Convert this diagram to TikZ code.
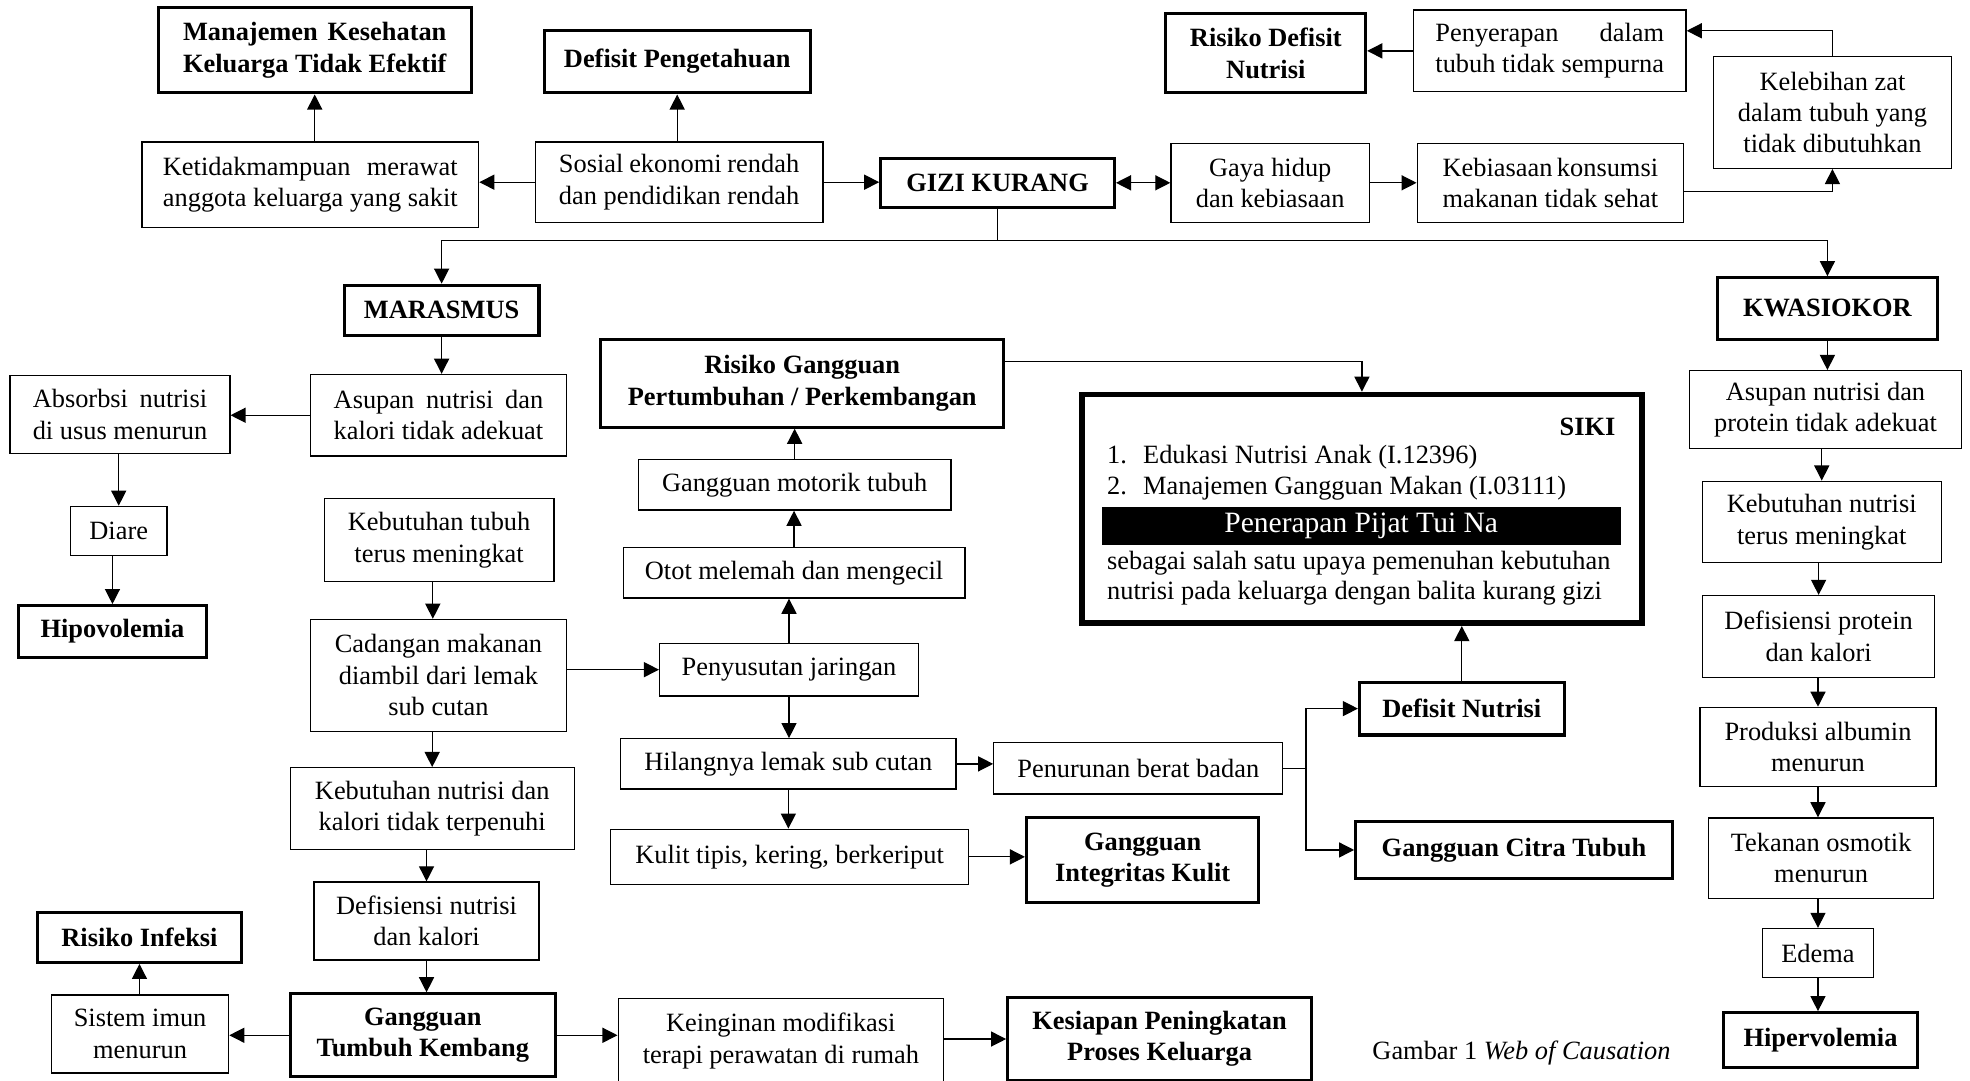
\documentclass[tikz,border=0pt]{standalone}
\usepackage{fontspec}
\setmainfont{Liberation Serif}
\usetikzlibrary{arrows.meta}
\newbox\jbox
\newcommand\jtwo[2]{\setbox\jbox\hbox{#2}\hbox to\wd\jbox{#1}\\#2}
\tikzset{
  tb/.style={draw, line width=1pt, rectangle, align=center, inner sep=0pt,
    font=\fontsize{21}{25}\selectfont},
  bb/.style={tb, line width=2.4pt, font=\fontsize{21}{25}\selectfont\bfseries},
  txt/.style={inner sep=0pt, font=\fontsize{21}{25}\selectfont},
  arr/.style={line width=1pt, -{Triangle[length=12pt,width=12pt]}},
  arrtwo/.style={line width=1pt, {Triangle[length=12pt,width=12pt]}-{Triangle[length=12pt,width=12pt]}},
  ln/.style={line width=1pt}
}
\begin{document}
\begin{tikzpicture}[x=1pt,y=1pt]
\useasboundingbox (0,0) rectangle (1568,-860);
\clip (0,0) rectangle (1568,-860);
% top
\node[bb, minimum width=249pt, minimum height=68pt] (mk) at (250.5,-40) {\jtwo{Manajemen Kesehatan}{Keluarga Tidak Efektif}};
\node[bb, minimum width=212pt, minimum height=50pt] (dp) at (539,-49) {Defisit Pengetahuan};
\node[bb, minimum width=159pt, minimum height=63pt] (rdn) at (1007.5,-42.5) {Risiko Defisit\\Nutrisi};
\node[tb, minimum width=217pt, minimum height=65pt] (pen) at (1233.5,-40.5) {\jtwo{Penyerapan dalam}{tubuh tidak sempurna}};
\node[tb, minimum width=189pt, minimum height=89pt] (kel) at (1458.5,-89.5) {Kelebihan zat\\dalam tubuh yang\\tidak dibutuhkan};
\node[tb, minimum width=268pt, minimum height=68pt] (ket) at (247,-147) {\jtwo{Ketidakmampuan merawat}{anggota keluarga yang sakit}};
\node[tb, minimum width=229pt, minimum height=64pt] (sos) at (540.5,-145) {\jtwo{Sosial ekonomi rendah}{dan pendidikan rendah}};
\node[bb, minimum width=186pt, minimum height=39pt] (gizi) at (794,-145.5) {GIZI KURANG};
\node[tb, minimum width=158pt, minimum height=63pt] (gaya) at (1011,-145.5) {Gaya hidup\\dan kebiasaan};
\node[tb, minimum width=212pt, minimum height=63pt] (keb) at (1234,-145.5) {\jtwo{Kebiasaan konsumsi}{makanan tidak sehat}};
% left
\node[bb, minimum width=155pt, minimum height=40pt] (mar) at (351.5,-247) {MARASMUS};
\node[tb, minimum width=204pt, minimum height=65pt] (asn) at (349,-330.5) {\jtwo{Asupan nutrisi dan}{kalori tidak adekuat}};
\node[tb, minimum width=175pt, minimum height=62pt] (abs) at (95.5,-330) {\jtwo{Absorbsi nutrisi}{di usus menurun}};
\node[tb, minimum width=77pt, minimum height=39pt] (diare) at (94.5,-422.5) {Diare};
\node[bb, minimum width=149pt, minimum height=41pt] (hipo) at (89.5,-502.5) {Hipovolemia};
\node[tb, minimum width=183pt, minimum height=66pt] (ktm) at (349.5,-430) {Kebutuhan tubuh\\terus meningkat};
\node[tb, minimum width=204pt, minimum height=89pt] (cad) at (349,-537.5) {Cadangan makanan\\diambil dari lemak\\sub cutan};
\node[tb, minimum width=226pt, minimum height=65pt] (knk) at (344,-643.5) {Kebutuhan nutrisi dan\\kalori tidak terpenuhi};
\node[tb, minimum width=179pt, minimum height=62pt] (dnk) at (339.5,-733) {Defisiensi nutrisi\\dan kalori};
\node[bb, minimum width=211pt, minimum height=66pt] (gtk) at (336.5,-824) {Gangguan\\Tumbuh Kembang};
\node[tb, minimum width=141pt, minimum height=62pt] (sim) at (111.5,-823) {Sistem imun\\menurun};
\node[bb, minimum width=162pt, minimum height=40pt] (rinf) at (111,-746) {Risiko Infeksi};
\node[tb, minimum width=259pt, minimum height=67pt] (kmt) at (621.5,-828.5) {Keinginan modifikasi\\terapi perawatan di rumah};
\node[bb, minimum width=242pt, minimum height=66pt] (kpp) at (923,-827) {Kesiapan Peningkatan\\Proses Keluarga};
% middle
\node[bb, minimum width=321pt, minimum height=70pt] (rgp) at (638.5,-305) {Risiko Gangguan\\Pertumbuhan / Perkembangan};
\node[tb, minimum width=249pt, minimum height=40pt] (gmt) at (632.5,-386) {Gangguan motorik tubuh};
\node[tb, minimum width=272pt, minimum height=40pt] (otot) at (632,-456) {Otot melemah dan mengecil};
\node[tb, minimum width=206pt, minimum height=42pt] (pj) at (628,-533) {Penyusutan jaringan};
\node[tb, minimum width=267pt, minimum height=40pt] (hl) at (627.5,-608) {Hilangnya lemak sub cutan};
\node[tb, minimum width=230pt, minimum height=41pt] (pbb) at (906,-611.5) {Penurunan berat badan};
\node[tb, minimum width=285pt, minimum height=44pt] (kulit) at (628.5,-682) {Kulit tipis, kering, berkeriput};
\node[bb, minimum width=185pt, minimum height=67pt] (gik) at (909.5,-684.5) {Gangguan\\Integritas Kulit};
\node[bb, minimum width=163pt, minimum height=42pt] (dn) at (1163.5,-564) {Defisit Nutrisi};
\node[bb, minimum width=252pt, minimum height=45pt] (gct) at (1205,-676.5) {Gangguan Citra Tubuh};
% SIKI
\node[draw, line width=4.5pt, minimum width=446pt, minimum height=182pt] (siki) at (1084,-405) {};
\node[txt, anchor=east, font=\fontsize{21}{25}\selectfont\bfseries] (sikit) at (1286,-340) {SIKI};
\node[txt, anchor=west] (s1) at (881,-363.5) {\makebox[28.7pt][l]{1.}Edukasi Nutrisi Anak (I.12396)};
\node[txt, anchor=west] (s2) at (881,-388.7) {\makebox[28.7pt][l]{2.}Manajemen Gangguan Makan (I.03111)};
\node[fill=black, text=white, inner sep=0pt, minimum width=413pt, minimum height=30.5pt, font=\fontsize{23.5}{28}\selectfont] (bar) at (1083.4,-418.5) {Penerapan Pijat Tui Na};
\node[txt, anchor=west] (s3) at (881,-448.4) {sebagai salah satu upaya pemenuhan kebutuhan};
\node[txt, anchor=west] (s4) at (881,-472.2) {nutrisi pada keluarga dengan balita kurang gizi};
% right
\node[bb, minimum width=175pt, minimum height=49pt] (kw) at (1454.5,-245.5) {KWASIOKOR};
\node[tb, minimum width=216pt, minimum height=62pt] (apt) at (1453,-326) {Asupan nutrisi dan\\protein tidak adekuat};
\node[tb, minimum width=190pt, minimum height=65pt] (knt) at (1450,-415.5) {Kebutuhan nutrisi\\terus meningkat};
\node[tb, minimum width=185pt, minimum height=65pt] (dpk) at (1447.5,-506.5) {Defisiensi protein\\dan kalori};
\node[tb, minimum width=188pt, minimum height=63pt] (pam) at (1447,-594.5) {Produksi albumin\\menurun};
\node[tb, minimum width=179pt, minimum height=64pt] (tom) at (1449.5,-683) {Tekanan osmotik\\menurun};
\node[tb, minimum width=88pt, minimum height=39pt] (edema) at (1447,-758.5) {Edema};
\node[bb, minimum width=154pt, minimum height=44pt] (hiper) at (1449,-828) {Hipervolemia};
\node[txt] (cap) at (1211,-838) {Gambar 1 \textit{Web of Causation}};
% connectors top
\draw[arr] (ket.north -| mk.south) -- (mk.south);
\draw[arr] (sos.west) -- (sos.west -| ket.east);
\draw[arr] (sos.north -| dp.south) -- (dp.south);
\draw[arr] (sos.east) -- (sos.east -| gizi.west);
\draw[arrtwo] (gizi.east) -- (gizi.east -| gaya.west);
\draw[arr] (gaya.east) -- (gaya.east -| keb.west);
\draw[arr] ([yshift=-7pt]keb.east) -| (kel.south);
\draw[arr] (kel.north) |- ([yshift=16pt]pen.east);
\draw[arr] (pen.west) -- (pen.west -| rdn.east);
\path (gizi.south) ++(0,-25) coordinate (br);
\draw[ln] (gizi.south) -- (br);
\draw[arr] (br) -| (mar.north);
\draw[arr] (br) -| (kw.north);
% left chain
\draw[arr] (mar.south) -- (mar.south |- asn.north);
\draw[arr] (asn.west) -- (asn.west -| abs.east);
\draw[arr] (abs.south -| diare.north) -- (diare.north);
\draw[arr] (diare.south -| hipo.north) -- (hipo.north);
\draw[arr] ([xshift=-5pt]ktm.south) -- ([xshift=-5pt]ktm.south |- cad.north);
\draw[arr] (pj.west -| cad.east) -- (pj.west);
\draw[arr] (cad.south -| knk.north) -- (knk.north);
\draw[arr] (knk.south -| dnk.north) -- (dnk.north);
\draw[arr] (dnk.south) -- (dnk.south |- gtk.north);
\draw[arr] (gtk.west) -- (gtk.west -| sim.east);
\draw[arr] (sim.north -| rinf.south) -- (rinf.south);
\draw[arr] (gtk.east) -- (gtk.east -| kmt.west);
\draw[arr] (kmt.east |- kpp.west) -- (kpp.west);
% middle
\draw[arr] (pj.north) -- (pj.north |- otot.south);
\draw[arr] (otot.north) -- (otot.north |- gmt.south);
\draw[arr] (gmt.north) -- (gmt.north |- rgp.south);
\draw[arr] ([yshift=17pt]rgp.east) -| (siki.north);
\draw[arr] (pj.south) -- (pj.south |- hl.north);
\draw[arr] (hl.east) -- (hl.east -| pbb.west);
\draw[arr] (hl.south) -- (hl.south |- kulit.north);
\draw[arr] (kulit.east) -- (kulit.east -| gik.west);
\path (pbb.east) ++(18,0) coordinate (jn);
\draw[ln] (pbb.east) -- (jn);
\draw[arr] (jn) |- (dn.west);
\draw[arr] (jn) |- (gct.west);
\draw[arr] (dn.north) -- (dn.north |- siki.south);
% right chain
\draw[arr] (kw.south) -- (kw.south |- apt.north);
\draw[arr] (apt.south -| knt.north) -- (knt.north);
\draw[arr] (knt.south -| dpk.north) -- (dpk.north);
\draw[arr] (dpk.south -| pam.north) -- (pam.north);
\draw[arr] (pam.south) -- (pam.south |- tom.north);
\draw[arr] (tom.south -| edema.north) -- (edema.north);
\draw[arr] (edema.south) -- (edema.south |- hiper.north);
\end{tikzpicture}
\end{document}
